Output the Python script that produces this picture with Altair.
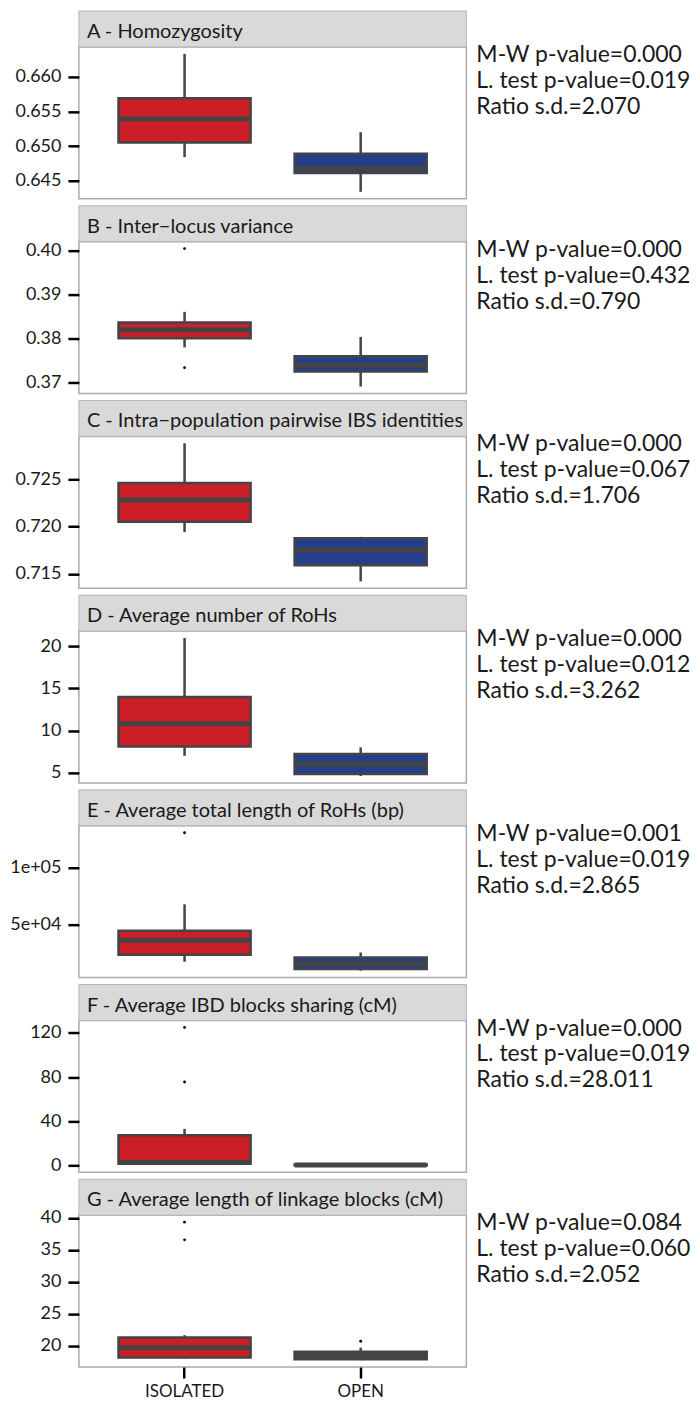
import altair as alt
import pandas as pd

groups = ["ISOLATED", "OPEN"]
titles = [
    "A - Homozygosity",
    "B - Inter\u2212locus variance",
    "C - Intra\u2212population pairwise IBS identities",
    "D - Average number of RoHs",
    "E - Average total length of RoHs (bp)",
    "F - Average IBD blocks sharing (cM)",
    "G - Average length of linkage blocks (cM)",
]

# box statistics (lower whisker, Q1, median, Q3, upper whisker)
iso_low = [0.6484, 0.3779, 0.7194, 7.0, 16800, 0.8, 18.0]
iso_q1 = [0.6505, 0.3800, 0.7205, 8.1, 22900, 1.5, 18.18]
iso_med = [0.6539, 0.3819, 0.7228, 10.8, 35800, 2.9, 19.69]
iso_q3 = [0.6569, 0.3836, 0.7246, 14.0, 44200, 27.4, 21.29]
iso_high = [0.6633, 0.3860, 0.7288, 21.0, 67600, 33.1, 21.65]
open_low = [0.6434, 0.3690, 0.7142, 4.6, 8900, 0.0, 17.75]
open_q1 = [0.6461, 0.3724, 0.7159, 4.84, 10300, 0.05, 17.9]
open_med = [0.6468, 0.3739, 0.7175, 6.0, 15300, 0.35, 18.5]
open_q3 = [0.6489, 0.3759, 0.71875, 7.2, 20600, 0.9, 19.07]
open_high = [0.6520, 0.3803, 0.7189, 8.0, 25000, 1.5, 19.7]
iso_out = [[], [0.4004, 0.3733], [], [], [130900], [124.9, 75.5], [39.33, 36.57]]
open_out = [[], [], [], [], [], [], [20.7]]

mw_p = ["0.000", "0.000", "0.000", "0.000", "0.001", "0.000", "0.084"]
lt_p = ["0.019", "0.432", "0.067", "0.012", "0.019", "0.019", "0.060"]
ratio_sd = ["2.070", "0.790", "1.706", "3.262", "2.865", "28.011", "2.052"]

tick_values = [
    [0.645, 0.650, 0.655, 0.660],
    [0.37, 0.38, 0.39, 0.40],
    [0.715, 0.720, 0.725],
    [5, 10, 15, 20],
    [50000, 100000],
    [0, 40, 80, 120],
    [20, 25, 30, 35, 40],
]
tick_formats = [".3f", ".2f", ".3f", "d", "e", "d", "d"]

colors = ["#CB1E27", "#233F8B"]
W, H = 388, 152
STRIP = 36
LINE = "#444444"
TEXT = "#1a1a1a"


def panel(i, last):
    box_df = pd.DataFrame({
        "group": groups,
        "lo": [iso_low[i], open_low[i]],
        "q1": [iso_q1[i], open_q1[i]],
        "med": [iso_med[i], open_med[i]],
        "q3": [iso_q3[i], open_q3[i]],
        "hi": [iso_high[i], open_high[i]],
    })
    out_df = pd.DataFrame({
        "group": ["ISOLATED"] * len(iso_out[i]) + ["OPEN"] * len(open_out[i]),
        "v": iso_out[i] + open_out[i],
    })
    allv = list(box_df[["lo", "hi"]].values.ravel()) + list(out_df["v"])
    lo, hi = min(allv), max(allv)
    pad = 0.05 * (hi - lo)
    yscale = alt.Scale(domain=[lo - pad, hi + pad], nice=False, zero=False)
    if tick_formats[i] == "e":
        yaxis = alt.Axis(values=tick_values[i], title=None,
                         labelExpr="replace(format(datum.value, '.0e'), 'e+', 'e+0')")
    else:
        yaxis = alt.Axis(values=tick_values[i], title=None, format=tick_formats[i])
    xscale = alt.Scale(domain=groups, paddingInner=0.25, paddingOuter=0.225)
    if last:
        xaxis = alt.Axis(title=None, labelAngle=0, tickSize=11, labelPadding=6,
                         labelFontSize=17)
    else:
        xaxis = None
    xenc = alt.X("group:N", scale=xscale, axis=xaxis)

    strip_df = pd.DataFrame({"title": [titles[i]],
                             "stats": ["M-W p-value=%s\nL. test p-value=%s\nRatio s.d.=%s"
                                       % (mw_p[i], lt_p[i], ratio_sd[i])]})
    strip = alt.Chart(strip_df).mark_rect(fill="#D9D9D9", stroke="#B5B5B5", strokeWidth=1).encode(
        x=alt.value(0), x2=alt.value(W), y=alt.value(-STRIP), y2=alt.value(0))
    strip_text = alt.Chart(strip_df).mark_text(align="left", baseline="alphabetic", fontSize=20,
                                               color=TEXT, font="Lato").encode(
        x=alt.value(8), y=alt.value(-9), text="title:N")
    stats_text = alt.Chart(strip_df).mark_text(align="left", baseline="alphabetic", fontSize=23,
                                               color=TEXT, font="Lato", lineBreak="\n",
                                               lineHeight=26).encode(
        x=alt.value(W + 10), y=alt.value(15), text="stats:N")

    whisk = alt.Chart(box_df).mark_rule(color=LINE, strokeWidth=2.5).encode(
        x=xenc, y=alt.Y("lo:Q", scale=yscale, axis=yaxis), y2="hi:Q")
    box = alt.Chart(box_df).mark_bar(stroke=LINE, strokeWidth=2.5).encode(
        x=xenc, y=alt.Y("q1:Q", scale=yscale, axis=yaxis), y2="q3:Q",
        fill=alt.Fill("group:N", scale=alt.Scale(domain=groups, range=colors), legend=None))
    med = alt.Chart(box_df).mark_tick(color=LINE, thickness=5, size=132, opacity=1).encode(
        x=xenc, y=alt.Y("med:Q", scale=yscale, axis=yaxis))
    layers = [strip, strip_text, whisk, box, med]
    if len(out_df):
        pts = alt.Chart(out_df).mark_circle(color="black", size=8, opacity=1).encode(
            x=xenc, y=alt.Y("v:Q", scale=yscale, axis=yaxis))
        layers.append(pts)
    layers.append(stats_text)
    return alt.layer(*layers).properties(width=W, height=H)


panels = [panel(i, i == len(titles) - 1) for i in range(len(titles))]

chart = alt.vconcat(*panels, spacing=43, bounds="flush").properties(
    padding={"left": 0, "top": 0, "right": 0, "bottom": 0}
).configure(
    font="Lato"
).configure_view(
    stroke="#ABABAB", strokeWidth=1.5
).configure_axis(
    grid=False, domain=False, tickColor="#000000", tickWidth=2.5, tickSize=11,
    labelPadding=7, labelFontSize=18, labelColor=TEXT, labelFont="Lato"
).configure_axisY(
    minExtent=69, maxExtent=69
)

chart.save("out.html", embed_options={"renderer": "svg", "actions": False})
